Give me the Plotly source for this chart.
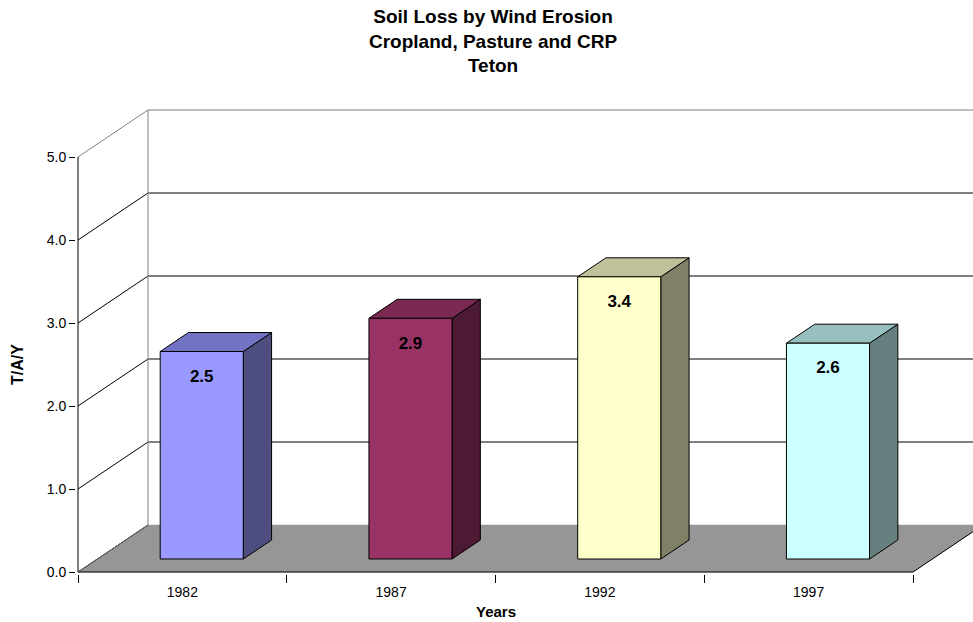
import plotly.graph_objects as go

# ---- data ----
years = ["1982", "1987", "1992", "1997"]
values = [2.5, 2.9, 3.4, 2.6]
y_ticks = [0, 1, 2, 3, 4, 5]
front_colors = ["#9999FF", "#993366", "#FFFFCC", "#CCFFFF"]
top_colors = ["#7373C6", "#7A2952", "#C0C09A", "#99C0C0"]
side_colors = ["#4D4D80", "#4D1A33", "#808066", "#668080"]

title_lines = ["Soil Loss by Wind Erosion", "Cropland, Pasture and CRP", "Teton"]

# ---- projection parameters (in axis units) ----
PX_X = 208.75          # pixels per category
PX_Y = 83.0            # pixels per value unit
DX = 70 / PX_X         # depth shift in x (full floor depth)
DY = 47 / PX_Y         # depth shift in y
HALF_W = 0.199         # half bar width (categories)
D0, D1 = 13 / 47, 32 / 47   # bar front / back depth fraction
FONT = "Arial, Liberation Sans, sans-serif"

n = len(years)
x_max = (973 - 76) / PX_X - 2 / PX_X
y_max = 467 / PX_Y - 2 / PX_Y
v_top = max(y_ticks)

fig = go.Figure()


def line(xs, ys, color, width=1):
    fig.add_trace(go.Scatter(x=xs, y=ys, mode="lines", hoverinfo="skip",
                             line=dict(color=color, width=width), showlegend=False))


def poly(xs, ys, fill, lc="black", lw=1):
    fig.add_trace(go.Scatter(x=xs + [xs[0]], y=ys + [ys[0]], mode="lines", fill="toself",
                             fillcolor=fill, line=dict(color=lc, width=lw),
                             hoverinfo="skip", showlegend=False))


# back wall gridlines and left wall diagonals
gx, gy, lx, ly = [], [], [], []
for v in y_ticks[1:-1]:
    gx += [DX, n + DX, None]
    gy += [v + DY, v + DY, None]
    lx += [0, DX, None]
    ly += [v, v + DY, None]
line(gx, gy, "#000000")
line(lx, ly, "#000000")
# wall borders (gray)
line([0, DX, n + DX], [v_top, v_top + DY, v_top + DY], "#808080")
line([DX, DX], [DY, v_top + DY], "#808080")

# floor
poly([0, n, n + DX, DX], [0, 0, DY, DY], "#969696", lc="#969696", lw=0.5)
line([DX, 0, n, n + DX], [DY, 0, 0, DY], "#000000")
line([DX, 0], [DY, 0], "#707070")
# front vertical axis line
line([0, 0], [0, v_top], "#000000")

# bars
for i, v in enumerate(values):
    c = i + 0.5
    xl0, xr0 = c - HALF_W + D0 * DX, c + HALF_W + D0 * DX
    xl1, xr1 = c - HALF_W + D1 * DX, c + HALF_W + D1 * DX
    yb0, yb1 = D0 * DY, D1 * DY
    # side
    poly([xr0, xr1, xr1, xr0], [yb0, yb1, v + yb1, v + yb0], side_colors[i])
    # top
    poly([xl0, xr0, xr1, xl1], [v + yb0, v + yb0, v + yb1, v + yb1], top_colors[i])
    # front
    poly([xl0, xr0, xr0, xl0], [yb0, yb0, v + yb0, v + yb0], front_colors[i])

# value labels
fig.add_trace(go.Scatter(
    x=[i + 0.5 + D0 * DX for i in range(n)],
    y=[v + D0 * DY - 26 / PX_Y for v in values],
    mode="text", text=[f"<b>{v:.1f}</b>" for v in values],
    textfont=dict(family=FONT, size=17, color="black"),
    textposition="middle center", hoverinfo="skip", showlegend=False))

fig.update_layout(
    width=973, height=622,
    margin=dict(l=76, r=0, t=107, b=48),
    paper_bgcolor="white", plot_bgcolor="white",
    font=dict(family=FONT, size=14, color="black"),
    xaxis=dict(range=[-2 / PX_X, x_max], showgrid=False, zeroline=False, showline=False,
               tickmode="array", tickvals=[i + 0.5 for i in range(n)], ticktext=years,
               ticks="outside", ticklen=5, tickcolor="rgba(0,0,0,0)",
               tickfont=dict(family=FONT, size=14),
               minor=dict(tickmode="array", tickvals=list(range(n + 1)), ticks="outside",
                          ticklen=8, tickcolor="black", tickwidth=1, showgrid=False)),
    yaxis=dict(range=[-2 / PX_Y, y_max], showgrid=False, zeroline=False, showline=False,
               tickmode="array", tickvals=y_ticks, ticktext=[f"{t:.1f}" for t in y_ticks],
               ticks="outside", ticklen=6, tickcolor="black",
               tickfont=dict(family=FONT, size=14)),
    annotations=[
        dict(text="<b>" + "<br>".join(title_lines) + "</b>", xref="paper", yref="paper",
             x=(493 - 76) / 897, y=1 + (107 - 41) / 467, xanchor="center", yanchor="middle",
             showarrow=False, font=dict(family=FONT, size=19)),
        dict(text="<b>T/A/Y</b>", xref="paper", yref="paper", textangle=-90,
             x=(17 - 76) / 897, y=(574 - 365) / 467, xanchor="center", yanchor="middle",
             showarrow=False, font=dict(family=FONT, size=16)),
        dict(text="<b>Years</b>", xref="paper", yref="paper",
             x=(496 - 76) / 897, y=(574 - 611) / 467, xanchor="center", yanchor="middle",
             showarrow=False, font=dict(family=FONT, size=15)),
    ],
)

fig.write_html("out.html")
